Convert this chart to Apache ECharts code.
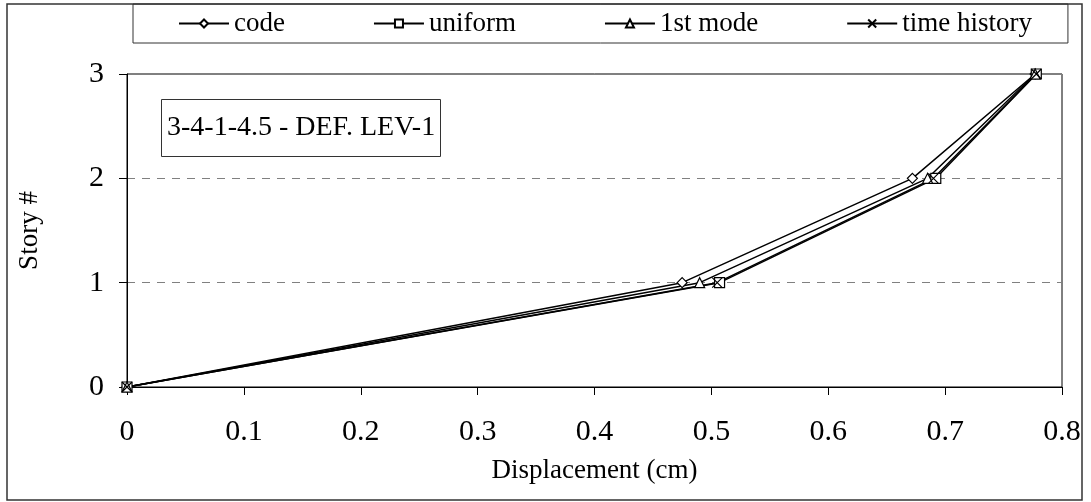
<!DOCTYPE html>
<html>
<head>
<meta charset="utf-8">
<script src="https://cdn.jsdelivr.net/npm/echarts@6/dist/echarts.min.js"></script>
<style>
  html, body { margin: 0; padding: 0; background: #fff; }
  #chart { width: 1091px; height: 502px; }
</style>
</head>
<body>
<div id="chart"></div>
<script>
// story levels and displacements (cm)
let stories = [0, 1, 2, 3];
let codeDisp = [0, 0.475, 0.672, 0.777];
let uniformDisp = [0, 0.507, 0.692, 0.778];
let firstModeDisp = [0, 0.49, 0.685, 0.777];
let timeHistoryDisp = [0, 0.505, 0.69, 0.778];

let font = 'Liberation Serif';
let crossPath = 'path://M0,0L10,10M10,0L0,10';

let pairs = function (xs) {
  return xs.map(function (x, i) { return [x, stories[i]]; });
};

let mkSeries = function (name, xs, symbol) {
  return {
    name: name,
    type: 'line',
    data: pairs(xs),
    symbol: symbol,
    symbolSize: 10,
    showAllSymbol: true,
    lineStyle: { color: '#000', width: 1.5 },
    itemStyle: { color: '#fff', borderColor: '#000', borderWidth: 1.2 },
    emphasis: { disabled: true },
    z: 3
  };
};

let chart = echarts.init(document.getElementById('chart'));
chart.setOption({
  animation: false,
  title: {
    text: '3-4-1-4.5 - DEF. LEV-1',
    left: 161,
    top: 99,
    padding: [15, 6, 15, 6],
    borderColor: '#333',
    borderWidth: 1,
    textStyle: { fontFamily: font, fontSize: 28, fontWeight: 'normal', color: '#000' }
  },
  legend: {
    left: 133,
    top: 4,
    padding: [6, 36, 6, 45],
    borderColor: '#333',
    borderWidth: 1,
    itemWidth: 50,
    itemHeight: 10,
    itemGap: 88,
    textStyle: { fontFamily: font, fontSize: 27, color: '#000' },
    data: ['code', 'uniform', '1st mode', 'time history']
  },
  grid: {
    left: 127,
    right: 29,
    top: 74,
    bottom: 115,
    show: true,
    borderColor: '#000',
    borderWidth: 1
  },
  xAxis: {
    type: 'value',
    min: 0,
    max: 0.8,
    interval: 0.1,
    name: 'Displacement (cm)',
    nameLocation: 'middle',
    nameGap: 70,
    nameTextStyle: { fontFamily: font, fontSize: 27, color: '#000' },
    axisLine: { lineStyle: { color: '#000' } },
    axisTick: { lineStyle: { color: '#000' }, length: 8 },
    axisLabel: {
      fontFamily: font, fontSize: 30, color: '#000', margin: 30,
      formatter: function (v) { return String(Math.round(v * 10) / 10); }
    },
    splitLine: { show: false }
  },
  yAxis: {
    type: 'value',
    min: 0,
    max: 3,
    interval: 1,
    name: 'Story #',
    nameLocation: 'middle',
    nameGap: 84,
    nameTextStyle: { fontFamily: font, fontSize: 27, color: '#000' },
    axisLine: { lineStyle: { color: '#000' } },
    axisTick: { lineStyle: { color: '#000' }, length: 8 },
    axisLabel: { fontFamily: font, fontSize: 30, color: '#000', margin: 23 },
    splitLine: { lineStyle: { color: '#808080', type: [8, 7], width: 1.2 } }
  },
  graphic: [{
    type: 'rect',
    shape: { x: 7, y: 4, width: 1075, height: 496 },
    style: { fill: 'none', stroke: '#333', lineWidth: 1.5 },
    silent: true
  }],
  series: [
    mkSeries('code', codeDisp, 'diamond'),
    mkSeries('uniform', uniformDisp, 'rect'),
    mkSeries('1st mode', firstModeDisp, 'triangle'),
    mkSeries('time history', timeHistoryDisp, crossPath)
  ]
});
</script>
</body>
</html>
